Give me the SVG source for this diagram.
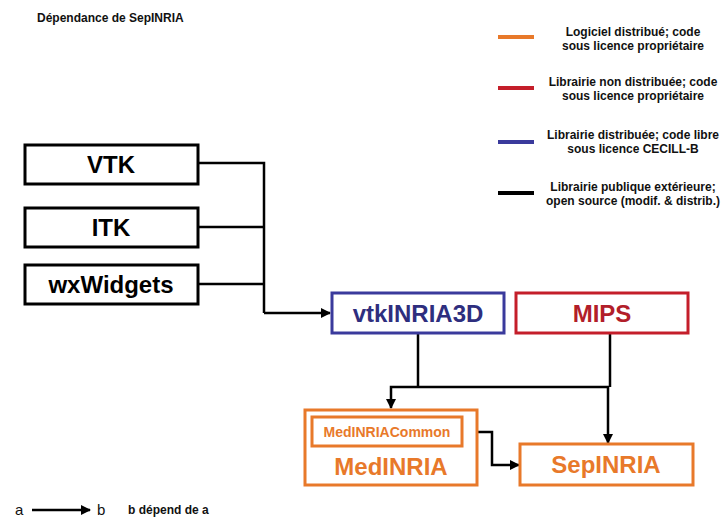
<svg xmlns="http://www.w3.org/2000/svg" width="721" height="519" viewBox="0 0 721 519">
<style>
.box{fill:#fff;stroke-width:3}
.blk{stroke:#000}
.org{stroke:#E8792A}
.red{stroke:#C41E2A}
.blu{stroke:#3A3A9C}
.nt{font-family:"Liberation Sans",Arial,sans-serif;font-weight:bold;font-size:24px;text-anchor:middle}
.lt{font-family:"Liberation Sans",Arial,sans-serif;font-weight:bold;font-size:12px;text-anchor:middle;fill:#111}
.con{fill:none;stroke:#000;stroke-width:2.5}
.leg{stroke-width:4}
</style>
<defs>
<marker id="ah" viewBox="0 0 10 10" refX="9" refY="5" markerWidth="4" markerHeight="4" orient="auto" markerUnits="strokeWidth">
<path d="M0,0 L10,5 L0,10 z" fill="#000"/>
</marker>
</defs>
<text x="37" y="22" font-family="Liberation Sans,Arial,sans-serif" font-weight="bold" font-size="12" fill="#111">Dépendance de SepINRIA</text>
<g id="legend">
<line class="leg org" x1="498" y1="37" x2="534" y2="37"/>
<text class="lt" x="633" y="36">Logiciel distribué; code</text>
<text class="lt" x="633" y="50">sous licence propriétaire</text>
<line class="leg red" x1="498" y1="88" x2="534" y2="88"/>
<text class="lt" x="633" y="86">Librairie non distribuée; code</text>
<text class="lt" x="633" y="100">sous licence propriétaire</text>
<line class="leg blu" x1="498" y1="142" x2="534" y2="142"/>
<text class="lt" x="633" y="139">Librairie distribuée; code libre</text>
<text class="lt" x="633" y="153">sous licence CECILL-B</text>
<line class="leg blk" x1="498" y1="193" x2="534" y2="193"/>
<text class="lt" x="633" y="191">Librairie publique extérieure;</text>
<text class="lt" x="633" y="205">open source (modif. &amp; distrib.)</text>
</g>
<g id="connectors">
<polyline class="con" points="198,163 264,163 264,313"/>
<line class="con" x1="198" y1="227" x2="264" y2="227"/>
<line class="con" x1="198" y1="284" x2="264" y2="284"/>
<polyline class="con" points="264,313 330,313" marker-end="url(#ah)"/>
<polyline class="con" points="418,333 418,387"/>
<polyline class="con" points="610,333 610,387"/>
<polyline class="con" points="418,387 391,387 391,408" marker-end="url(#ah)"/>
<polyline class="con" points="418,387 608,387 608,443" marker-end="url(#ah)"/>
<polyline class="con" points="462,432 492,432 492,465 519,465" marker-end="url(#ah)"/>
<line class="con" x1="32" y1="510" x2="90" y2="510" marker-end="url(#ah)"/>
</g>
<g id="VTK">
<rect class="box blk" x="25" y="145" width="173" height="39"/>
<text class="nt" x="111" y="173">VTK</text>
</g>
<g id="ITK">
<rect class="box blk" x="25" y="208" width="173" height="39"/>
<text class="nt" x="111" y="236">ITK</text>
</g>
<g id="wxWidgets">
<rect class="box blk" x="25" y="265" width="173" height="39"/>
<text class="nt" x="111" y="293">wxWidgets</text>
</g>
<g id="vtkINRIA3D">
<rect class="box blu" x="332" y="293" width="172" height="40"/>
<text class="nt" x="418" y="322" fill="#2E2E7E">vtkINRIA3D</text>
</g>
<g id="MIPS">
<rect class="box red" x="516" y="293" width="172" height="40"/>
<text class="nt" x="602" y="322" fill="#B21E2A">MIPS</text>
</g>
<g id="MedINRIA">
<rect class="box org" x="305" y="410" width="172" height="75"/>
<text class="nt" x="391" y="475" fill="#E8792A">MedINRIA</text>
</g>
<g id="MedINRIACommon">
<rect class="box org" x="312" y="417" width="150" height="29"/>
<text class="nt" x="387" y="437" fill="#E8792A" style="font-size:14px">MedINRIACommon</text>
</g>
<g id="SepINRIA">
<rect class="box org" x="520" y="444" width="173" height="41"/>
<text class="nt" x="606" y="473" fill="#E8792A">SepINRIA</text>
</g>
<g id="key">
<text x="15" y="515" font-family="Liberation Sans,Arial,sans-serif" font-size="15" fill="#111">a</text>
<text x="97" y="515" font-family="Liberation Sans,Arial,sans-serif" font-size="15" fill="#111">b</text>
<text x="128" y="514" font-family="Liberation Sans,Arial,sans-serif" font-weight="bold" font-size="12" fill="#111">b dépend de a</text>
</g>
</svg>
